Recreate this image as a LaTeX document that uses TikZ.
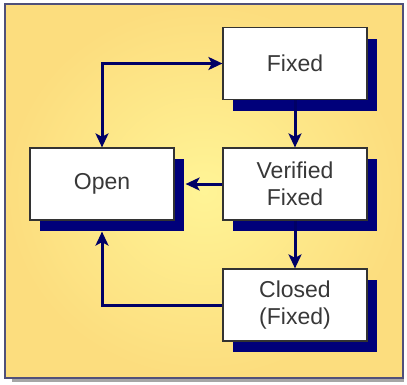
\documentclass[tikz,border=0pt]{standalone}
\usepackage{fontspec}
\setmainfont{Liberation Sans}
\usetikzlibrary{arrows.meta,shadows}
\definecolor{navyshadow}{HTML}{00007A}
\definecolor{navyline}{HTML}{000066}
\definecolor{panelin}{HTML}{FFF496}
\definecolor{panelout}{HTML}{FCDD7E}
\definecolor{panelrim}{HTML}{50507A}
\definecolor{boxrim}{HTML}{333333}
\definecolor{txt}{HTML}{383838}
\begin{document}
\begin{tikzpicture}[x=1pt,y=-1pt,
  state/.style={draw=boxrim,line width=1.2pt,fill=white,minimum width=144pt,minimum height=72pt,
    inner sep=0pt,align=center,font=\fontsize{23}{27}\selectfont,text=txt,
    drop shadow={shadow xshift=10pt,shadow yshift=-11pt,fill=navyshadow,opacity=1}},
  tip/.style={Stealth[length=14pt,width=13pt,inset=3.5pt]},
  flow/.style={draw=navyline,line width=3pt,-{Stealth[length=14pt,width=13pt,inset=3.5pt]}}]
\useasboundingbox (0,0) rectangle (407,384);
% panel shadow
\fill[gray!70] (12,376) rectangle (404,382);
% panel
\shade[inner color=panelin,outer color=panelout] (5,4) rectangle (403,378);
\draw[panelrim,line width=2pt] (5,4) rectangle (403,378);
% states
\node[state] (fixed) at (295,63.5) {Fixed};
\node[state] (verified) at (295,184) {Verified\\Fixed};
\node[state] (open) at (102,184) {Open};
\node[state] (closed) at (295,305) {Closed\\(Fixed)};
% connectors
\draw[flow,{Stealth[length=14pt,width=13pt,inset=3.5pt]}-{Stealth[length=14pt,width=13pt,inset=3.5pt]}]
  (open.north) |- (fixed.west);
\draw[flow] (fixed.south) -- (verified.north);
\draw[flow,shorten >=11pt] (verified.west) -- (open.east);
\draw[flow] (verified.south) -- (closed.north);
\draw[flow,shorten >=11pt] (closed.west) -| (open.south);
\end{tikzpicture}
\end{document}
